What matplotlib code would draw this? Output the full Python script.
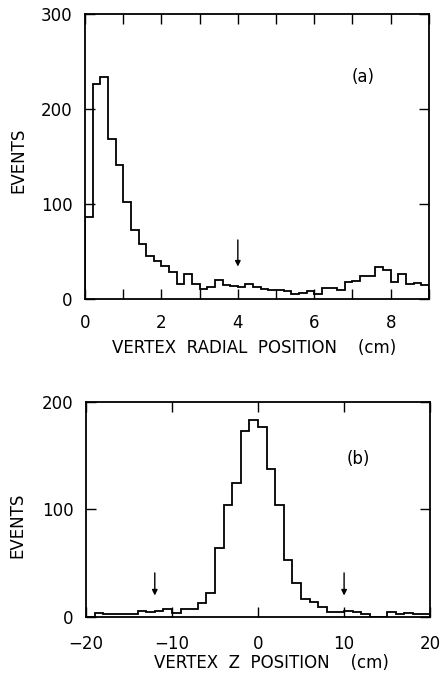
import numpy as np
import matplotlib
matplotlib.use("Agg")
import matplotlib.pyplot as plt
from matplotlib.ticker import MultipleLocator

# ---- data (a): vertex radial position, bins of 0.2 cm from 0 to 9 cm ----
radial_bin_width = 0.2
radial_start = 0.0
radial_counts = [86, 226, 234, 168, 141, 102, 73, 58, 45, 40,
                 35, 28, 16, 26, 16, 10, 12, 20, 15, 13,
                 12, 16, 12, 10, 9.5, 9, 8, 5, 6, 8,
                 5, 11, 11, 9, 17.5, 19, 24.5, 24.5, 34, 30.5,
                 18, 26, 16, 16.5, 15]
radial_xticks = [0, 2, 4, 6, 8]
radial_yticks = [0, 100, 200, 300]
radial_arrow_x = [4]

# ---- data (b): vertex z position, bins of 1 cm from -20 to 20 cm ----
z_bin_width = 1.0
z_start = -20.0
z_counts = [0, 3.4, 2.8, 3, 2.5, 2.5, 6, 4.3, 5.3, 7,
            3.4, 7, 7.8, 12.7, 22.6, 64, 104, 125, 173, 183,
            177, 138, 104, 53, 32, 16.4, 13.6, 9.6, 4.3, 5,
            5.9, 5, 3, 0, 0, 4.3, 3, 4, 3, 3]
z_xticks = [-20, -10, 0, 10, 20]
z_yticks = [0, 100, 200]
z_arrow_x = [-12, 10]

plt.rcParams['font.family'] = ['DejaVu Sans']
FS = 12
LW = 1.3

fig = plt.figure(figsize=(4.43, 6.73), dpi=100)
ax1 = fig.add_axes([0.192, 0.556, 0.776, 0.423])
ax2 = fig.add_axes([0.194, 0.0832, 0.777, 0.3195])


def style(ax, xpad):
    for s in ax.spines.values():
        s.set_linewidth(LW)
    ax.tick_params(which='both', direction='in', length=7, width=1.0,
                   top=True, right=True, labelsize=FS)
    ax.tick_params(axis='y', pad=9)
    ax.tick_params(axis='x', pad=xpad)


# (a)
edges1 = radial_start + radial_bin_width * np.arange(len(radial_counts) + 1)
ax1.stairs(radial_counts, edges1, color='k', lw=LW)
ax1.set_xlim(0, 9)
ax1.set_ylim(0, 300)
ax1.set_xticks(radial_xticks)
ax1.xaxis.set_minor_locator(MultipleLocator(1))
ax1.set_yticks(radial_yticks)
style(ax1, 11)
for xa in radial_arrow_x:
    ax1.annotate('', xy=(xa, 34), xytext=(xa, 62),
                 arrowprops=dict(arrowstyle='-|>', lw=1.0, color='k',
                                 mutation_scale=8, shrinkA=0, shrinkB=0))
ax1.text(7.28, 234, '(a)', fontsize=FS, ha='center', va='center')
ax1.text(0.491, -0.172, 'VERTEX  RADIAL  POSITION    (cm)', fontsize=FS,
         ha='center', va='center', transform=ax1.transAxes)
ax1.text(-0.195, 0.488, 'EVENTS', fontsize=FS, rotation=90,
         ha='center', va='center', transform=ax1.transAxes)

# (b)
edges2 = z_start + z_bin_width * np.arange(len(z_counts) + 1)
ax2.stairs(z_counts, edges2, color='k', lw=LW)
ax2.set_xlim(-20, 20)
ax2.set_ylim(0, 200)
ax2.set_xticks(z_xticks)
ax2.set_xticklabels(['\u221220', '\u221210', '0', '10', '20'])
ax2.set_yticks(z_yticks)
style(ax2, 13)
for xa in z_arrow_x:
    ax2.annotate('', xy=(xa, 20), xytext=(xa, 41),
                 arrowprops=dict(arrowstyle='-|>', lw=1.0, color='k',
                                 mutation_scale=8, shrinkA=0, shrinkB=0))
ax2.text(11.7, 147, '(b)', fontsize=FS, ha='center', va='center')
ax2.text(0.54, -0.214, 'VERTEX  Z  POSITION    (cm)', fontsize=FS,
         ha='center', va='center', transform=ax2.transAxes)
ax2.text(-0.198, 0.428, 'EVENTS', fontsize=FS, rotation=90,
         ha='center', va='center', transform=ax2.transAxes)

fig.savefig('out.png', dpi=100)
